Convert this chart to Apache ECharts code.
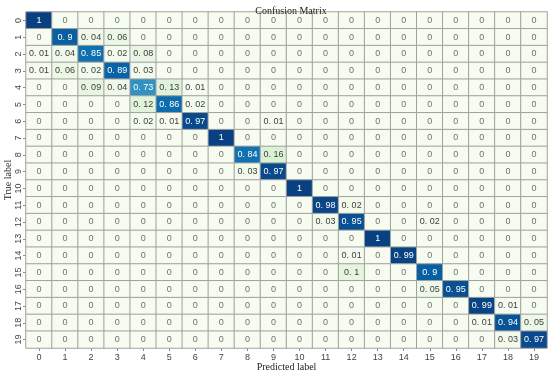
<!DOCTYPE html>
<html>
<head>
<meta charset="utf-8">
<script src="https://cdn.jsdelivr.net/npm/echarts@6/dist/echarts.min.js"></script>
<style>html,body{margin:0;padding:0;background:#fff}#c{width:550px;height:374px}</style>
</head>
<body>
<div id="c"></div>
<script>
var labels = ['0','1','2','3','4','5','6','7','8','9','10','11','12','13','14','15','16','17','18','19'];
// rows = true label, columns = predicted label
var matrix = [
  [1,0,0,0,0,0,0,0,0,0,0,0,0,0,0,0,0,0,0,0],
  [0,0.9,0.04,0.06,0,0,0,0,0,0,0,0,0,0,0,0,0,0,0,0],
  [0.01,0.04,0.85,0.02,0.08,0,0,0,0,0,0,0,0,0,0,0,0,0,0,0],
  [0.01,0.06,0.02,0.89,0.03,0,0,0,0,0,0,0,0,0,0,0,0,0,0,0],
  [0,0,0.09,0.04,0.73,0.13,0.01,0,0,0,0,0,0,0,0,0,0,0,0,0],
  [0,0,0,0,0.12,0.86,0.02,0,0,0,0,0,0,0,0,0,0,0,0,0],
  [0,0,0,0,0.02,0.01,0.97,0,0,0.01,0,0,0,0,0,0,0,0,0,0],
  [0,0,0,0,0,0,0,1,0,0,0,0,0,0,0,0,0,0,0,0],
  [0,0,0,0,0,0,0,0,0.84,0.16,0,0,0,0,0,0,0,0,0,0],
  [0,0,0,0,0,0,0,0,0.03,0.97,0,0,0,0,0,0,0,0,0,0],
  [0,0,0,0,0,0,0,0,0,0,1,0,0,0,0,0,0,0,0,0],
  [0,0,0,0,0,0,0,0,0,0,0,0.98,0.02,0,0,0,0,0,0,0],
  [0,0,0,0,0,0,0,0,0,0,0,0.03,0.95,0,0,0.02,0,0,0,0],
  [0,0,0,0,0,0,0,0,0,0,0,0,0,1,0,0,0,0,0,0],
  [0,0,0,0,0,0,0,0,0,0,0,0,0.01,0,0.99,0,0,0,0,0],
  [0,0,0,0,0,0,0,0,0,0,0,0,0.1,0,0,0.9,0,0,0,0],
  [0,0,0,0,0,0,0,0,0,0,0,0,0,0,0,0.05,0.95,0,0,0],
  [0,0,0,0,0,0,0,0,0,0,0,0,0,0,0,0,0,0.99,0.01,0],
  [0,0,0,0,0,0,0,0,0,0,0,0,0,0,0,0,0,0.01,0.94,0.05],
  [0,0,0,0,0,0,0,0,0,0,0,0,0,0,0,0,0,0,0.03,0.97]
];
var gnbu = ['#f7fcf0','#e0f3db','#ccebc5','#a8ddb5','#7bccc4','#4eb3d3','#2b8cbe','#0868ac','#084081'];

var data = [];
for (var r = 0; r < matrix.length; r++) {
  for (var c = 0; c < matrix[r].length; c++) {
    var v = matrix[r][c];
    data.push({
      value: [c, r, v],
      label: { color: v > 0.5 ? '#ffffff' : (v === 0 ? '#707070' : '#404040') }
    });
  }
}

var chart = echarts.init(document.getElementById('c'));
chart.setOption({
  animation: false,
  title: {
    text: 'Confusion Matrix', left: 286, top: 1, textAlign: 'center',
    textStyle: { fontFamily: 'Liberation Serif', fontSize: 10, fontWeight: 'normal', color: '#222' }
  },
  grid: { left: 26, right: 3, top: 12, bottom: 26, containLabel: false, outerBoundsMode: 'none' },
  xAxis: {
    type: 'category', data: labels, position: 'bottom',
    name: 'Predicted label', nameLocation: 'middle', nameGap: 14, nameMoveOverlap: false,
    nameTextStyle: { fontFamily: 'Liberation Serif', fontSize: 10, color: '#222' },
    axisLine: { show: false },
    axisTick: { show: true, alignWithLabel: true, length: 3, lineStyle: { color: '#888' } },
    axisLabel: { margin: 5, fontSize: 9, color: '#444', fontFamily: 'Liberation Sans' },
    splitArea: { show: false }
  },
  yAxis: {
    type: 'category', data: labels, inverse: true,
    name: 'True label', nameLocation: 'middle', nameGap: 13, nameMoveOverlap: false,
    nameTextStyle: { fontFamily: 'Liberation Serif', fontSize: 10, color: '#222' },
    axisLine: { show: false },
    axisTick: { show: true, alignWithLabel: true, length: 3, lineStyle: { color: '#888' } },
    axisLabel: { margin: 3, fontSize: 9, color: '#444', rotate: 90, fontFamily: 'Liberation Sans' }
  },
  visualMap: {
    show: false, min: 0, max: 1, dimension: 2,
    inRange: { color: gnbu }
  },
  series: [{
    type: 'heatmap',
    data: data,
    itemStyle: { borderColor: '#a0a0a0', borderWidth: 1 },
    label: {
      show: true, fontSize: 9, fontFamily: 'Liberation Sans',
      formatter: function (p) { return String(p.value[2]).replace('.', '. '); }
    },
    emphasis: { disabled: true }
  }]
});
</script>
</body>
</html>
